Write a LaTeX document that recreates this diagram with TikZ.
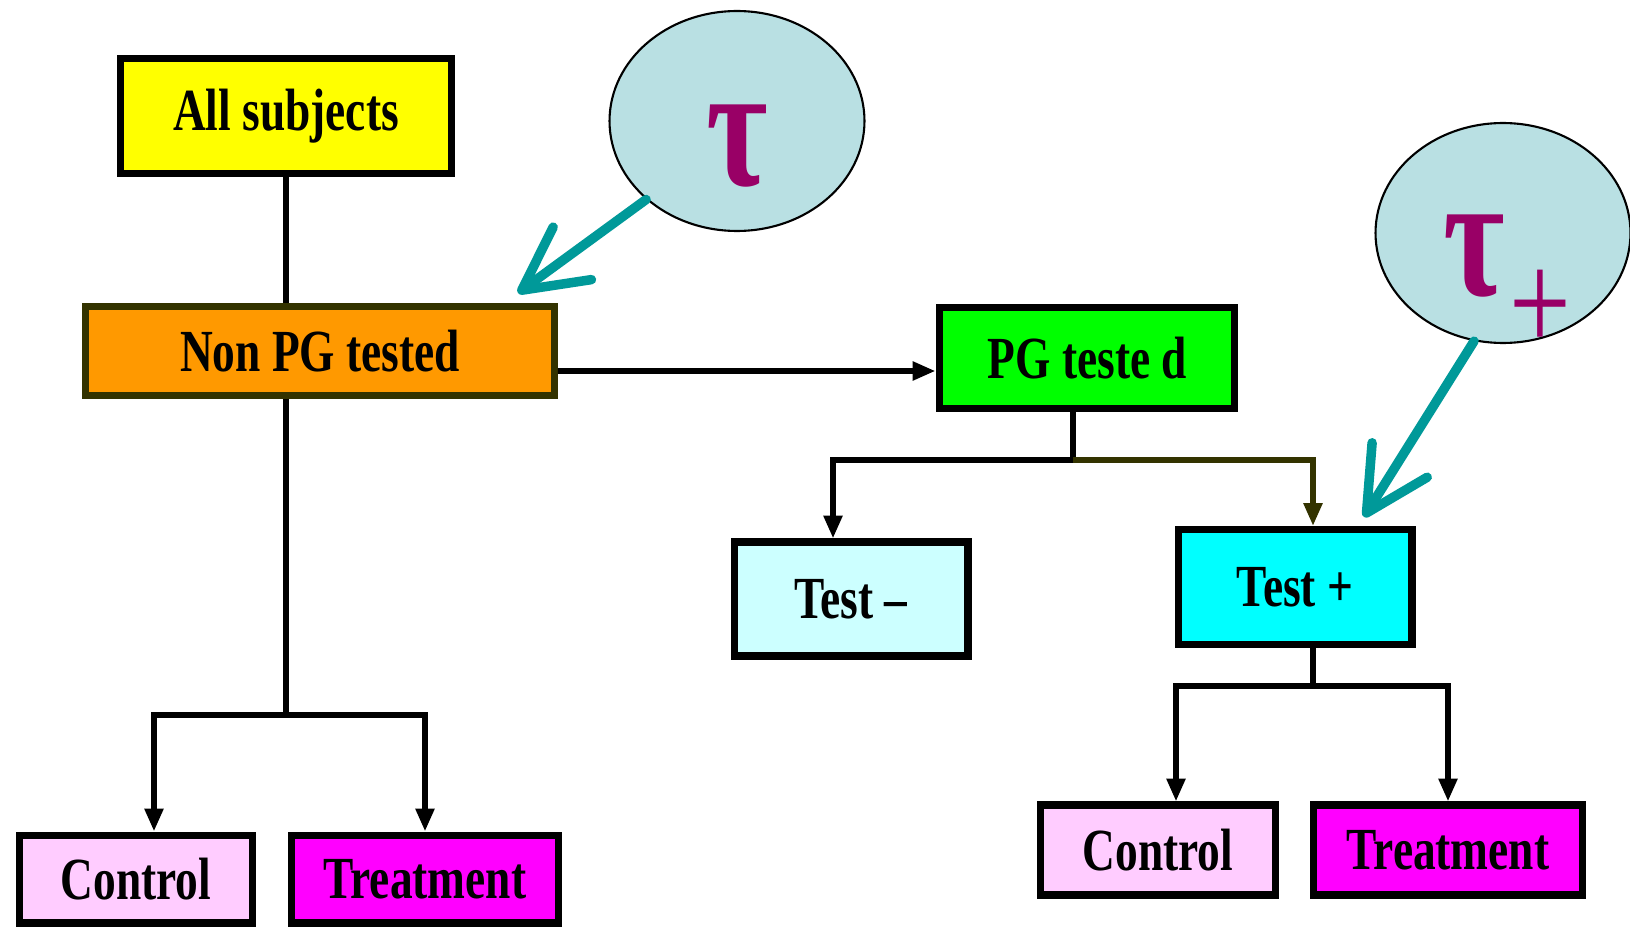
\documentclass[tikz,border=0pt]{standalone}
\usepackage{fontspec}
\usepackage{tikz}
\usepackage{xcolor}
\usetikzlibrary{arrows.meta,positioning,shapes.geometric}
\newfontfamily\diagfont[FakeStretch=0.76]{Liberation Serif}
\definecolor{allfill}{HTML}{FFFF00}
\definecolor{nonpgfill}{HTML}{FF9900}
\definecolor{pgfill}{HTML}{00FF00}
\definecolor{negfill}{HTML}{CCFFFF}
\definecolor{posfill}{HTML}{00FFFF}
\definecolor{ctrlfill}{HTML}{FFCCFF}
\definecolor{treatfill}{HTML}{FF00FF}
\definecolor{bubblefill}{HTML}{B9E0E3}
\definecolor{pointer}{HTML}{009999}
\definecolor{tauink}{HTML}{990066}
\definecolor{darkolive}{HTML}{333300}
\tikzset{
  box/.style={draw=black, line width=4pt, inner sep=0pt, align=center,
              font=\diagfont\bfseries\fontsize{34}{37}\selectfont},
  bubble/.style={draw=black, ellipse, fill=bubblefill, line width=1.2pt,
                 minimum width=5.1cm, minimum height=4.4cm, inner sep=0pt},
  tausign/.style={text=tauink, inner sep=0pt,
                  font=\diagfont\bfseries\fontsize{100}{100}\selectfont},
  link/.style={line width=3.2pt, draw=black},
  conn/.style={link, -{Triangle[length=0.46cm, width=0.36cm]}},
  pointarrow/.style={line width=0.19cm, draw=pointer, line cap=round,
                     -{Straight Barb[length=1.25cm, width=1.3cm, round]}}
}
\begin{document}
\begin{tikzpicture}[x=0.02cm,y=-0.02cm]
    \fill[white] (0,0) rectangle (1630,929);
    \useasboundingbox (0,0) rectangle (1630,929);

    % boxes
    \node[box, fill=allfill, minimum width=6.62cm, minimum height=2.3cm] (all) at (286,116) {All subjects};
    \node[box, fill=nonpgfill, draw=darkolive, minimum width=9.38cm, minimum height=1.78cm] (nonpg) at (320,351) {Non PG tested};
    \node[box, fill=pgfill, minimum width=5.92cm, minimum height=2.03cm] (pg) at (1087,358) {PG teste\hspace{0.18em}d};
    \node[box, fill=negfill, minimum width=4.68cm, minimum height=2.28cm] (testm) at (851,599) {Test –};
    \node[box, fill=posfill, minimum width=4.68cm, minimum height=2.3cm] (testp) at (1295,587) {Test +};
    \node[box, fill=ctrlfill, minimum width=4.68cm, minimum height=1.76cm] (ctrlL) at (136,879) {Control};
    \node[box, fill=treatfill, minimum width=5.36cm, minimum height=1.76cm] (treatL) at (425,879) {Treatment};
    \node[box, fill=ctrlfill, minimum width=4.7cm, minimum height=1.8cm] (ctrlR) at (1158,850) {Control};
    \node[box, fill=treatfill, minimum width=5.38cm, minimum height=1.8cm] (treatR) at (1448,850) {Treatment};

    % tau bubbles
    \node[bubble] (tau) at (737,121) {};
    \node[tausign] at ([yshift=-0.5cm]tau.center) {τ};
    \node[bubble] (taup) at (1503,233) {};
    \node[tausign] at ([shift={(-0.58cm,-0.46cm)}]taup.center) {τ};
    \node[text=tauink, inner sep=0pt, font=\diagfont\fontsize{82}{82}\selectfont]
      at ([shift={(0.74cm,-1.55cm)}]taup.center) {+};

    % tree connectors
    \coordinate (forkL) at (286,715);
    \coordinate (forkP) at (1073,460);
    \coordinate (forkT) at (1313,686);
    \draw[link] (all.south) -- (all.south |- nonpg.north);
    \draw[link] (nonpg.south -| forkL) -- (forkL);
    \draw[conn] (forkL) -| ([xshift=0.36cm]ctrlL.north);
    \draw[conn] (forkL) -| (treatL.north);
    \draw[conn] ([yshift=-0.4cm]nonpg.east) -- ([yshift=-0.26cm]pg.west);
    \draw[link] (pg.south -| forkP) -- (forkP);
    \draw[conn] (forkP) -| ([xshift=-0.36cm]testm.north);
    \draw[conn, draw=darkolive] (forkP) -| ([xshift=0.36cm]testp.north);
    \draw[link] (testp.south -| forkT) -- (forkT);
    \draw[conn] (forkT) -| ([xshift=0.36cm]ctrlR.north);
    \draw[conn] (forkT) -| (treatR.north);

    % pointers
    \draw[pointarrow] (tau.south west) -- ([shift={(-0.8cm,0.2cm)}]nonpg.north east);
    \draw[pointarrow] (taup.255) -- ([shift={(1.38cm,0.18cm)}]testp.north);
\end{tikzpicture}
\end{document}
